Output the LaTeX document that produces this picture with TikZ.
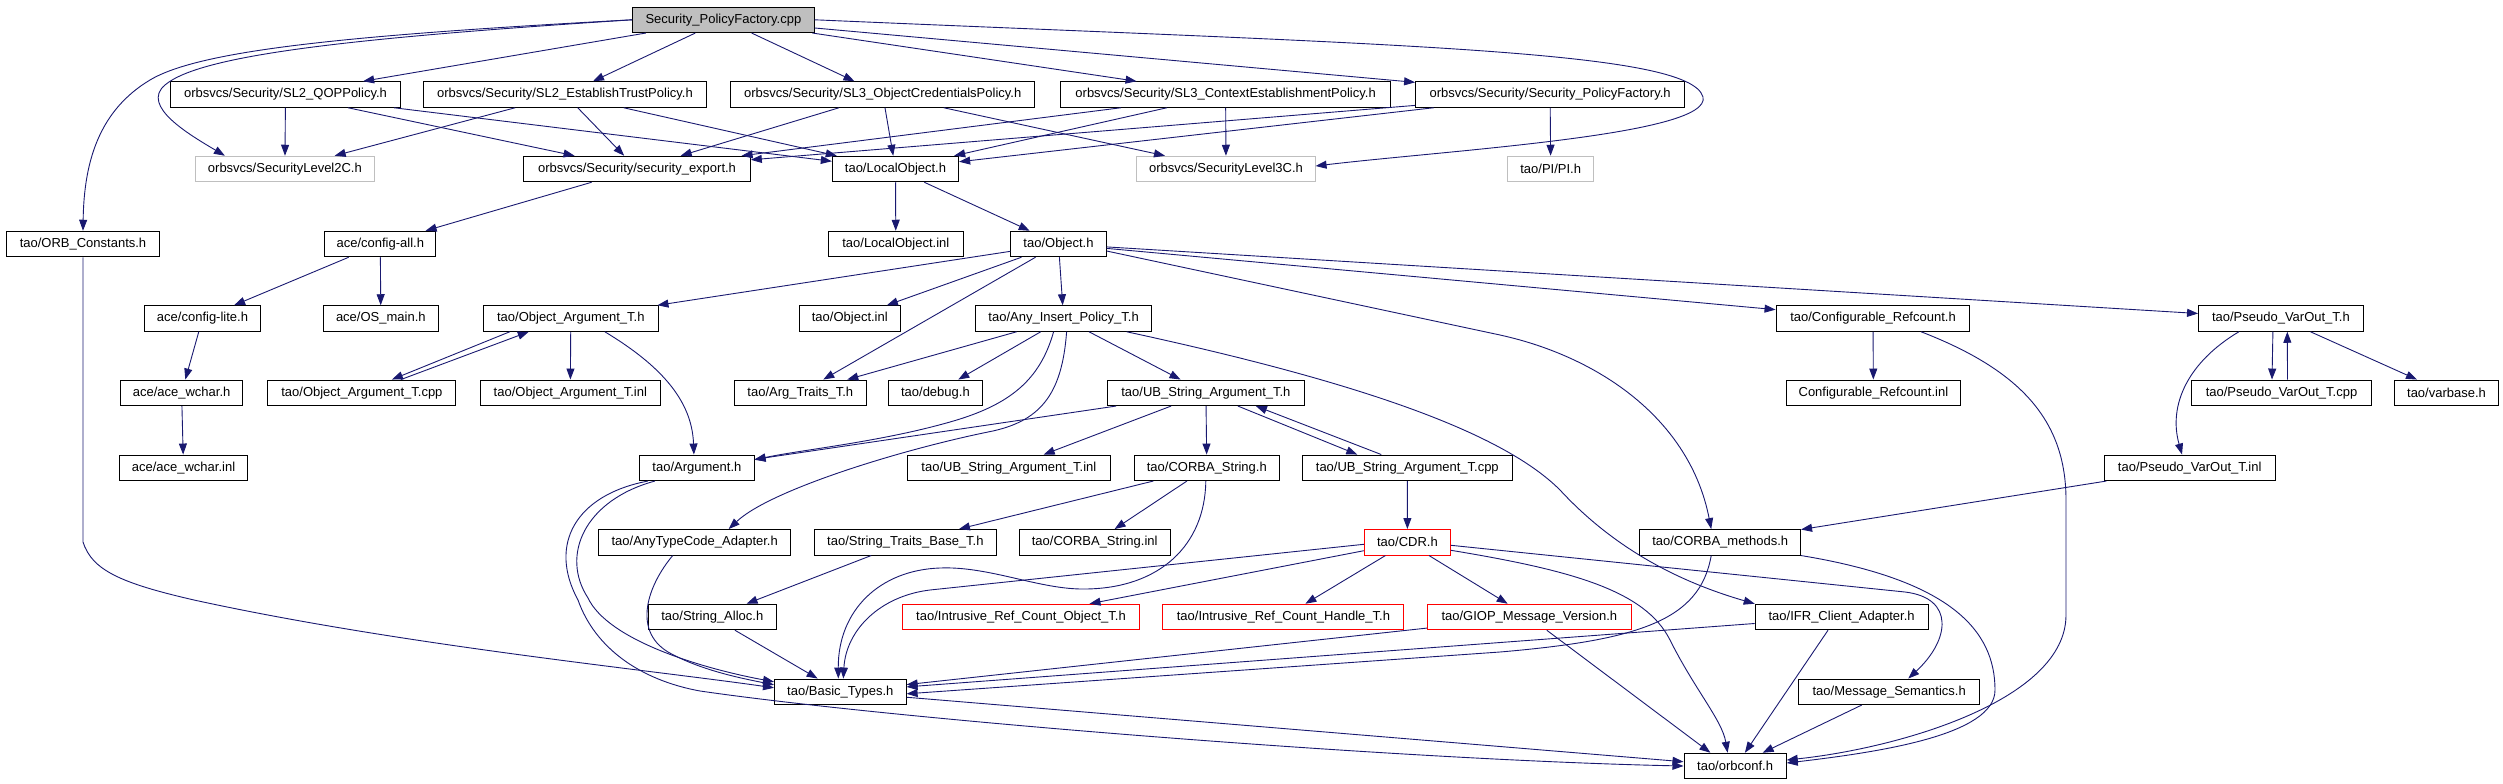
\documentclass[tikz,border=0pt]{standalone}
\usepackage{fontspec}
\setmainfont{Liberation Sans}
\usetikzlibrary{arrows.meta}
\definecolor{edgeblue}{HTML}{191970}
\definecolor{nodocgray}{HTML}{BFBFBF}
\begin{document}
\begin{tikzpicture}[x=1pt,y=-1pt,
  file/.style={draw=black, line width=1pt, minimum height=25.5pt, inner sep=0pt, font=\fontsize{13pt}{15pt}\selectfont},
  root/.style={file, fill=nodocgray},
  nodoc/.style={file, draw=nodocgray},
  trunc/.style={file, draw=red},
  dep/.style={draw=edgeblue, line width=0.9pt, -{Triangle[length=11pt,width=8pt]}}]
\useasboundingbox (0,0) rectangle (2503,784);
\node[root, minimum width=181.6pt] (cpp) at (723.4,19.8) {Security\_PolicyFactory.cpp};
\node[file, minimum width=229.3pt] (qop) at (285.5,94.5) {orbsvcs/Security/SL2\_QOPPolicy.h};
\node[file, minimum width=283pt] (trust) at (564.9,94.5) {orbsvcs/Security/SL2\_EstablishTrustPolicy.h};
\node[file, minimum width=303.7pt] (objcred) at (882.7,94.5) {orbsvcs/Security/SL3\_ObjectCredentialsPolicy.h};
\node[file, minimum width=330.2pt] (ctx) at (1225.6,94.5) {orbsvcs/Security/SL3\_ContextEstablishmentPolicy.h};
\node[file, minimum width=269pt] (spfh) at (1550.1,94.5) {orbsvcs/Security/Security\_PolicyFactory.h};
\node[nodoc, minimum width=178.3pt] (sl2c) at (284.9,169) {orbsvcs/SecurityLevel2C.h};
\node[file, minimum width=226.6pt] (secexp) at (637,169) {orbsvcs/Security/security\_export.h};
\node[file, minimum width=126.3pt] (lobj) at (895.5,169) {tao/LocalObject.h};
\node[nodoc, minimum width=178.1pt] (sl3c) at (1226,169) {orbsvcs/SecurityLevel3C.h};
\node[nodoc, minimum width=86pt] (pi) at (1550.7,169) {tao/PI/PI.h};
\node[file, minimum width=152.9pt] (orbc) at (83,244) {tao/ORB\_Constants.h};
\node[file, minimum width=111.2pt] (cfgall) at (380.3,244) {ace/config-all.h};
\node[file, minimum width=134.5pt] (lobjinl) at (895.8,244) {tao/LocalObject.inl};
\node[file, minimum width=95.2pt] (obj) at (1058.5,244) {tao/Object.h};
\node[file, minimum width=115.5pt] (cfglite) at (202.5,318.5) {ace/config-lite.h};
\node[file, minimum width=114.4pt] (osmain) at (380.8,318.5) {ace/OS\_main.h};
\node[file, minimum width=174.6pt] (oarg) at (570.8,318.5) {tao/Object\_Argument\_T.h};
\node[file, minimum width=100.8pt] (objinl) at (849.8,318.5) {tao/Object.inl};
\node[file, minimum width=176.2pt] (anyins) at (1063.6,318.5) {tao/Any\_Insert\_Policy\_T.h};
\node[file, minimum width=193.9pt] (cfgref) at (1873,318.5) {tao/Configurable\_Refcount.h};
\node[file, minimum width=164.7pt] (pvo) at (2280.9,318.5) {tao/Pseudo\_VarOut\_T.h};
\node[file, minimum width=122.6pt] (wchar) at (181.6,392.8) {ace/ace\_wchar.h};
\node[file, minimum width=188.1pt] (oargcpp) at (361.9,392.8) {tao/Object\_Argument\_T.cpp};
\node[file, minimum width=180pt] (oarginl) at (570.3,392.8) {tao/Object\_Argument\_T.inl};
\node[file, minimum width=131.5pt] (argtr) at (800.3,392.8) {tao/Arg\_Traits\_T.h};
\node[file, minimum width=93.2pt] (debug) at (935.4,392.8) {tao/debug.h};
\node[file, minimum width=196.2pt] (ubs) at (1205.9,392.8) {tao/UB\_String\_Argument\_T.h};
\node[file, minimum width=173.9pt] (cfgrefinl) at (1873.4,392.8) {Configurable\_Refcount.inl};
\node[file, minimum width=179.3pt] (pvocpp) at (2281.5,392.8) {tao/Pseudo\_VarOut\_T.cpp};
\node[file, minimum width=103.3pt] (varbase) at (2446.5,392.8) {tao/varbase.h};
\node[file, minimum width=127.4pt] (wcharinl) at (183.5,467.8) {ace/ace\_wchar.inl};
\node[file, minimum width=114.3pt] (arg) at (696.9,467.8) {tao/Argument.h};
\node[file, minimum width=202.2pt] (ubsinl) at (1008.9,467.8) {tao/UB\_String\_Argument\_T.inl};
\node[file, minimum width=144.7pt] (cstr) at (1206.8,467.8) {tao/CORBA\_String.h};
\node[file, minimum width=209.8pt] (ubscpp) at (1407.3,467.8) {tao/UB\_String\_Argument\_T.cpp};
\node[file, minimum width=170.8pt] (pvoinl) at (2189.7,467.8) {tao/Pseudo\_VarOut\_T.inl};
\node[file, minimum width=192.3pt] (anytc) at (694.7,542.3) {tao/AnyTypeCode\_Adapter.h};
\node[file, minimum width=182.1pt] (strtr) at (905.4,542.3) {tao/String\_Traits\_Base\_T.h};
\node[file, minimum width=150.6pt] (cstrinl) at (1094.7,542.3) {tao/CORBA\_String.inl};
\node[trunc, minimum width=86.1pt] (cdr) at (1407.4,542.3) {tao/CDR.h};
\node[file, minimum width=160.7pt] (cmeth) at (1720.2,542.3) {tao/CORBA\_methods.h};
\node[file, minimum width=127.5pt] (stralloc) at (712.3,617) {tao/String\_Alloc.h};
\node[trunc, minimum width=236.7pt] (irobj) at (1021,617) {tao/Intrusive\_Ref\_Count\_Object\_T.h};
\node[trunc, minimum width=241.1pt] (irhnd) at (1283.4,617) {tao/Intrusive\_Ref\_Count\_Handle\_T.h};
\node[trunc, minimum width=203.8pt] (giop) at (1529.3,617) {tao/GIOP\_Message\_Version.h};
\node[file, minimum width=172.8pt] (ifr) at (1841.6,617) {tao/IFR\_Client\_Adapter.h};
\node[file, minimum width=131.6pt] (basic) at (840.3,691.8) {tao/Basic\_Types.h};
\node[file, minimum width=180.8pt] (msgsem) at (1889.2,691.8) {tao/Message\_Semantics.h};
\node[file, minimum width=102.2pt] (orbconf) at (1735.1,766) {tao/orbconf.h};
\draw[dep] (cpp.west) .. controls (350,35) and (200,50) .. (150,80) .. controls (100,110) and (84,160) .. (orbc.north);
\draw[dep] (cpp.west) .. controls (350,38) and (200,55) .. (165,85) .. controls (140,106) and (190,135) .. ([xshift=-60pt]sl2c.north);
\draw[dep] (cpp) -- (qop);
\draw[dep] (cpp) -- (trust);
\draw[dep] (cpp) -- (objcred);
\draw[dep] (cpp) -- (ctx);
\draw[dep] (cpp) -- (spfh);
\draw[dep] (cpp.east) .. controls (1400,45) and (1690,50) .. (1703,97) .. controls (1712,135) and (1450,150) .. ([yshift=3pt]sl3c.east);
\draw[dep] (qop) -- (sl2c);
\draw[dep] (qop) -- (secexp);
\draw[dep] (qop) -- (lobj);
\draw[dep] (trust) -- (sl2c);
\draw[dep] (trust) -- (secexp);
\draw[dep] (trust) -- (lobj);
\draw[dep] (objcred) -- (secexp);
\draw[dep] (objcred) -- (lobj);
\draw[dep] (objcred) -- (sl3c);
\draw[dep] (ctx) -- (secexp);
\draw[dep] (ctx) -- (lobj);
\draw[dep] (ctx) -- (sl3c);
\draw[dep] (spfh) -- (secexp);
\draw[dep] (spfh) -- (lobj);
\draw[dep] (spfh) -- (pi);
\draw[dep] (secexp) -- (cfgall);
\draw[dep] (lobj) -- (lobjinl);
\draw[dep] (lobj) -- (obj);
\draw[dep] (cfgall) -- (cfglite);
\draw[dep] (cfgall) -- (osmain);
\draw[dep] (cfglite) -- (wchar);
\draw[dep] (wchar) -- (wcharinl);
\draw[dep] (orbc.south) -- (83,542) .. controls (92,570) and (120,583) .. (194,600) .. controls (400,645) and (650,670) .. ([yshift=4pt]basic.west);
\draw[dep] (obj) -- (oarg);
\draw[dep] (obj) -- (objinl);
\draw[dep] (obj) -- (argtr);
\draw[dep] (obj) -- (anyins);
\draw[dep] (obj) -- (cfgref);
\draw[dep] (obj) -- (pvo);
\draw[dep] ([yshift=-7pt]obj.east) -- (1500,335) .. controls (1600,357) and (1690,420) .. ([xshift=-9pt]cmeth.north);
\draw[dep] (anyins) -- (argtr);
\draw[dep] (anyins) -- (debug);
\draw[dep] (anyins) -- (ubs);
\draw[dep] ([xshift=-10pt]anyins.south) .. controls (1040,380) and (1010,405) .. (950,422) .. controls (880,442) and (800,450) .. ([yshift=8pt]arg.east);
\draw[dep] ([xshift=3pt]anyins.south) .. controls (1062,395) and (1040,422) .. (988,432) .. controls (900,450) and (770,490) .. ([xshift=34pt]anytc.north);
\draw[dep] ([xshift=63pt]anyins.south) .. controls (1350,380) and (1500,430) .. (1560,490) .. controls (1620,555) and (1690,585) .. (ifr.north west);
\draw[dep] ([xshift=-61pt]oarg.south) -- ([xshift=30pt]oargcpp.north);
\draw[dep] ([xshift=39pt]oargcpp.north) -- ([xshift=-42pt]oarg.south);
\draw[dep] (oarg) -- (oarginl);
\draw[dep] ([xshift=34pt]oarg.south) .. controls (660,365) and (692,400) .. ([xshift=-3pt]arg.north);
\draw[dep] (ubs) -- (arg);
\draw[dep] (ubs) -- (ubsinl);
\draw[dep] (ubs) -- (cstr);
\draw[dep] ([xshift=32pt]ubs.south) -- ([xshift=-50pt]ubscpp.north);
\draw[dep] ([xshift=-26pt]ubscpp.north) -- ([xshift=50pt]ubs.south);
\draw[dep] (ubscpp) -- (cdr);
\draw[dep] (cstr) -- (strtr);
\draw[dep] (cstr) -- (cstrinl);
\draw[dep] ([xshift=-1pt]cstr.south) .. controls (1205,545) and (1160,588) .. (1086,589) .. controls (1040,590) and (990,566) .. (940,568) .. controls (880,570) and (838,610) .. ([xshift=-2pt]basic.north);
\draw[dep] ([yshift=-2pt]cdr.west) -- (930,590) .. controls (880,596) and (846,630) .. ([xshift=3pt]basic.north);
\draw[dep] (cdr) -- (irobj);
\draw[dep] (cdr) -- (irhnd);
\draw[dep] (cdr) -- (giop);
\draw[dep] ([yshift=-8pt]cdr.east) .. controls (1570,570) and (1645,590) .. (1670,640) .. controls (1695,690) and (1722,720) .. ([xshift=-7.5pt]orbconf.north);
\draw[dep] ([yshift=-3pt]cdr.east) -- (1905,592) .. controls (1955,598) and (1950,640) .. ([xshift=19pt]msgsem.north);
\draw[dep] (giop) -- (basic);
\draw[dep] ([xshift=17.5pt]giop.south) -- ([xshift=-24.7pt]orbconf.north);
\draw[dep] (ifr) -- (basic);
\draw[dep] ([xshift=-13.6pt]ifr.south) -- ([xshift=9.8pt]orbconf.north);
\draw[dep] (msgsem) -- (orbconf);
\draw[dep] ([xshift=-9pt]cmeth.south) .. controls (1700,620) and (1640,640) .. (1500,652) -- ([yshift=-2pt]basic.east);
\draw[dep] (cmeth.south east) .. controls (1950,580) and (1995,630) .. (1995,690) .. controls (1995,735) and (1880,752) .. ([yshift=3pt]orbconf.east);
\draw[dep] ([xshift=48pt]cfgref.south) .. controls (2020,370) and (2066,420) .. (2066,500) -- (2066,615) .. controls (2066,700) and (1900,748) .. ([yshift=6pt]orbconf.east);
\draw[dep] (basic) -- (orbconf);
\draw[dep] ([xshift=-49pt]arg.south) .. controls (575,495) and (548,545) .. (578,600) .. controls (595,648) and (640,680) .. (700,691) .. controls (900,720) and (1400,760) .. (orbconf.west);
\draw[dep] ([xshift=-42pt]arg.south) .. controls (585,500) and (560,555) .. (588,598) .. controls (608,640) and (700,668) .. ([yshift=10pt]basic.west);
\draw[dep] ([xshift=-22pt]anytc.south) .. controls (648,585) and (632,630) .. (668,652) .. controls (700,670) and (740,678) .. ([yshift=7pt]basic.west);
\draw[dep] (stralloc) -- (basic);
\draw[dep] (strtr) -- (stralloc);
\draw[dep] ([xshift=-8pt]pvo.south) -- ([xshift=-9.5pt]pvocpp.north);
\draw[dep] ([xshift=6pt]pvocpp.north) -- ([xshift=6.4pt]pvo.south);
\draw[dep] (pvo) -- (varbase);
\draw[dep] ([xshift=-42pt]pvo.south) .. controls (2188,362) and (2168,405) .. ([xshift=-7.7pt]pvoinl.north);
\draw[dep] (pvoinl) -- (cmeth);
\draw[dep] (cfgref) -- (cfgrefinl);
\end{tikzpicture}
\end{document}
